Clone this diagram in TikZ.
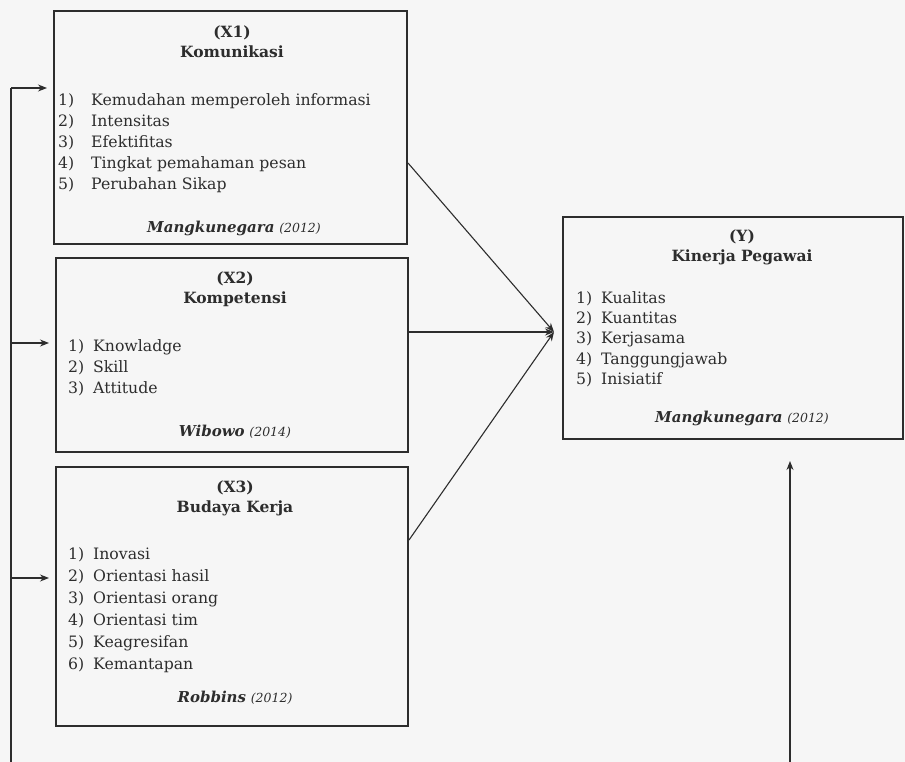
\documentclass[tikz,border=0pt]{standalone}
\usepackage{fontspec}
\setmainfont{DejaVu Serif}
\usetikzlibrary{arrows.meta,positioning}
\definecolor{paper}{RGB}{246,246,246}
\definecolor{ink}{RGB}{45,45,45}
\newlength{\itmgap}
\setlength{\itmgap}{25pt}
\newcommand{\itm}[2]{\makebox[\itmgap][l]{#1}#2}
\newcommand{\src}[2]{\textbf{\textit{#1}} {\itshape\fontsize{12.5}{15}\selectfont(#2)}}

\begin{document}
\begin{tikzpicture}[x=1pt,y=-1pt,
    box/.style={draw=ink,line width=2pt,inner sep=0pt},
    head/.style={font=\bfseries\fontsize{15.5}{20}\selectfont,align=center,text=ink},
    items/.style 2 args={font=\setlength{\itmgap}{#2}\fontsize{15.7}{#1}\selectfont,
        align=left,anchor=north west,inner sep=0pt,text=ink},
    cite/.style={font=\fontsize{15}{18}\selectfont,text=ink},
    link/.style={-{Stealth[length=9pt,width=7pt]},line width=1.1pt,draw=ink}]

    % Background
    \fill[paper] (0,0) rectangle (905,762);
    \useasboundingbox (0,0) rectangle (905,762);

    % Define boxes
    \node[box,minimum width=353pt,minimum height=233pt] (x1) at (230.5,127.5) {};
    \node[box,minimum width=352pt,minimum height=194pt] (x2) at (232,355) {};
    \node[box,minimum width=352pt,minimum height=259pt] (x3) at (232,596.5) {};
    \node[box,minimum width=340pt,minimum height=222pt] (y) at (733,328) {};

    % Texts of X1
    \node[head] (x1h) at (232,42) {(X1)\\Komunikasi};
    \node[items={21pt}{33pt}] (x1i) at (58,93) {\itm{1)}{Kemudahan memperoleh informasi}\\
        \itm{2)}{Intensitas}\\ \itm{3)}{Efektifitas}\\
        \itm{4)}{Tingkat pemahaman pesan}\\ \itm{5)}{Perubahan Sikap}};
    \node[cite] (x1c) at (234,228) {\src{Mangkunegara}{2012}};

    % Texts of X2
    \node[head] (x2h) at (235,289) {(X2)\\Kompetensi};
    \node[items={21.3pt}{25pt}] (x2i) at (68,339) {\itm{1)}{Knowladge}\\ \itm{2)}{Skill}\\
        \itm{3)}{Attitude}};
    \node[cite] (x2c) at (235,432) {\src{Wibowo}{2014}};

    % Texts of X3
    \node[head] (x3h) at (235,498) {(X3)\\Budaya Kerja};
    \node[items={22pt}{25pt}] (x3i) at (68,547) {\itm{1)}{Inovasi}\\ \itm{2)}{Orientasi hasil}\\
        \itm{3)}{Orientasi orang}\\ \itm{4)}{Orientasi tim}\\
        \itm{5)}{Keagresifan}\\ \itm{6)}{Kemantapan}};
    \node[cite] (x3c) at (235,698) {\src{Robbins}{2012}};

    % Texts of Y
    \node[head] (yh) at (742,247) {(Y)\\Kinerja Pegawai};
    \node[items={20.3pt}{25pt}] (yi) at (576,291) {\itm{1)}{Kualitas}\\ \itm{2)}{Kuantitas}\\
        \itm{3)}{Kerjasama}\\ \itm{4)}{Tanggungjawab}\\ \itm{5)}{Inisiatif}};
    \node[cite] (yc) at (742,418) {\src{Mangkunegara}{2012}};

    % Feedback points
    \coordinate (fb) at (11,762);
    \coordinate (fb1) at (11,88);
    \coordinate (fb2) at (11,343);
    \coordinate (fb3) at (11,578);
    \coordinate (fby) at (790,762);
    \coordinate (tgt) at ([xshift=-8pt,yshift=-4pt]y.west);

    % Draw edges
    \draw[line width=1.1pt,ink] (fb) -- (fb1);
    \draw[link,shorten >=6pt] (fb1) -- (x1.west |- fb1);
    \draw[link,shorten >=6pt] (fb2) -- (x2.west |- fb2);
    \draw[link,shorten >=6pt] (fb3) -- (x3.west |- fb3);
    \draw[link] ([yshift=-35.5pt]x1.east) -- (tgt);
    \draw[link] ([yshift=23pt]x2.east) -- (tgt);
    \draw[link] ([yshift=56.5pt]x3.east) -- (tgt);
    \draw[link,shorten >=21pt] (fby) -- (y.south -| fby);

\end{tikzpicture}
\end{document}
